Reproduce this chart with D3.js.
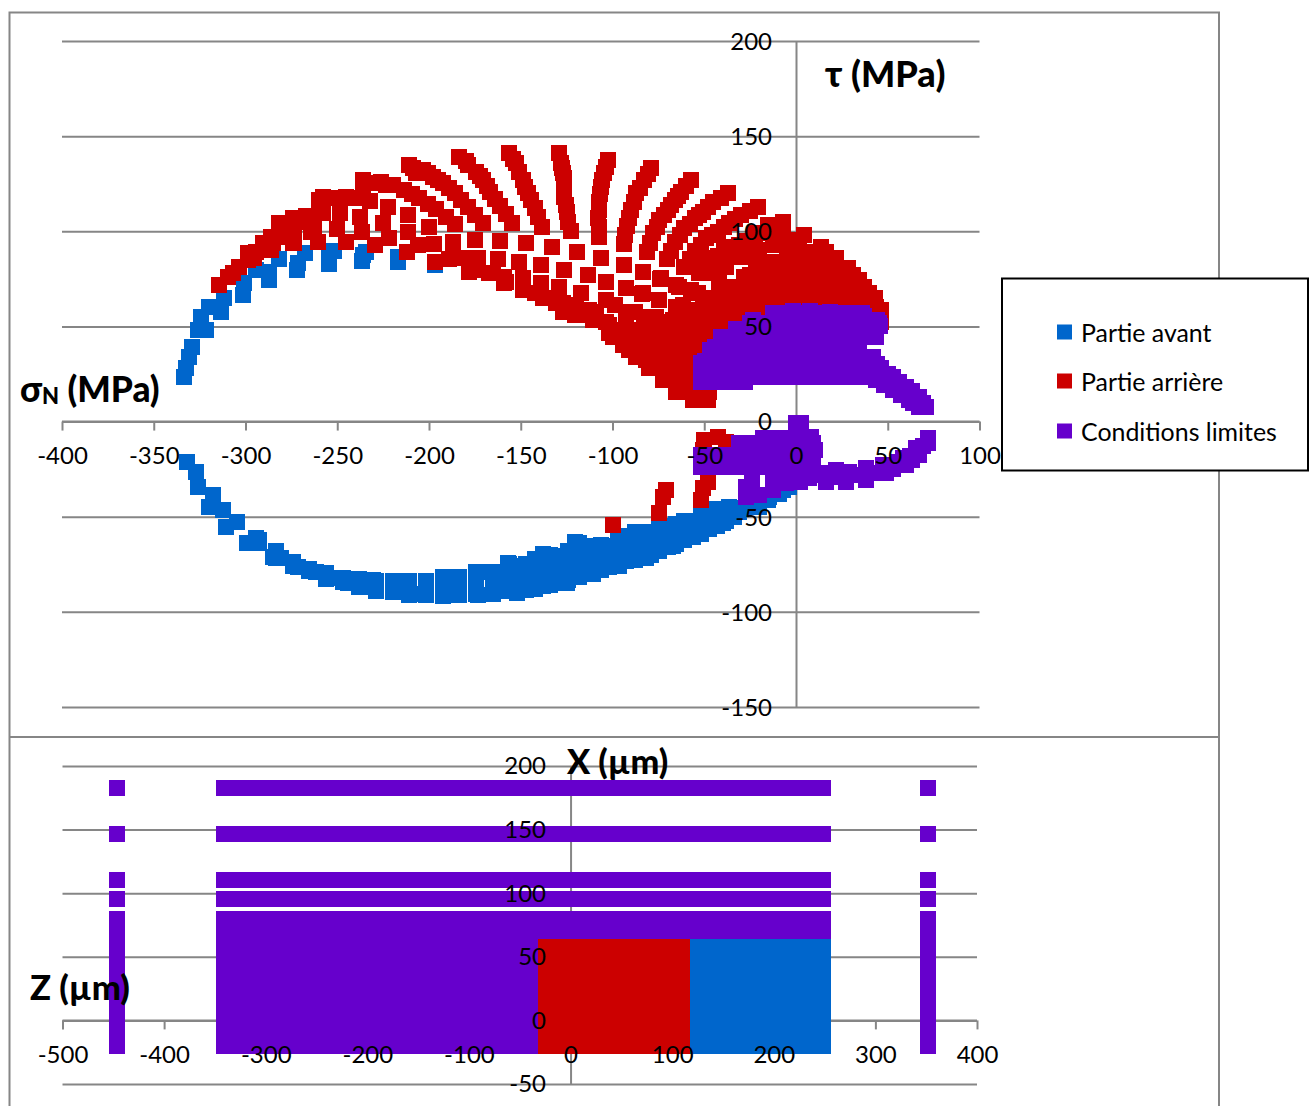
<!DOCTYPE html>
<html><head><meta charset="utf-8">
<script src="https://cdn.jsdelivr.net/npm/d3@7/dist/d3.min.js"></script>
<style>html,body{margin:0;background:#fff}svg{display:block}text{font-family:Lato,Carlito,sans-serif;fill:#000}</style>
</head><body><svg id="c" width="1311" height="1106"></svg>
<script>
// ---- stress chart ticks
const sigmaTicks=[-400,-350,-300,-250,-200,-150,-100,-50,0,50,100];
const tauTicks=[-150,-100,-50,0,50,100,150,200];
// ---- position chart ticks
const xPosTicks=[-500,-400,-300,-200,-100,0,100,200,300,400];
const zPosTicks=[-50,0,50,100,150,200];
// ---- Partie avant, stress chart
const blueUpper=[[-333.5,23.6],[-332.4,28],[-330.9,34.1],[-329.3,39.3],[-326,48.1],[-321.5,48.1],[-324.2,55.1],[-319.7,60.4],[-313.3,57.7],[-311.5,64.7],[-301.1,66.5],[-300.6,72.6],[-294.2,79.6],[-287,74.4],[-287,78.8],[-281.9,85.2],[-271.9,79.6],[-271.2,83.1],[-267.5,88.4],[-254.6,82.8],[-254.6,85.8],[-251.5,89.8],[-236.5,84.4],[-236.1,87.5],[-234.3,89.3],[-217,84],[-216.8,86.6],[-197,82.3],[-178,78.8]];
const blueLower=[[-332,-21.1],[-326.9,-26.3],[-326,-34.2],[-317.8,-38.6],[-319.7,-44.7],[-312.4,-46.5],[-310.6,-55.2],[-304.8,-52.6],[-299.3,-64],[-294.2,-61.3],[-285.1,-71],[-280.6,-71.8],[-271.5,-76.2],[-261.5,-78.9],[-254.3,-82.4],[-244.3,-85],[-233.4,-86.7],[-219.7,-88.5],[-230.6,-83.2],[-216.1,-83.6],[-201.6,-83.6],[-208.8,-90.6],[-192.5,-81.8],[-192.5,-91.5],[-183.4,-81.8],[-183.4,-91.1],[-173.4,-78.9],[-173.4,-91.1],[-165.2,-78.9],[-165.2,-90.2],[-157.1,-74.5],[-157.1,-88.5],[-147.1,-74.8],[-147.1,-88.5],[-138,-69.8],[-138,-83.2],[-138,-86.4],[-128.9,-71],[-128.9,-85],[-120.7,-63.4],[-120.7,-74.5],[-120.7,-81.5],[-120.2,-63.4],[-112.6,-65.2],[-101.7,-65.2],[-92.6,-60],[-81.7,-59],[-70.8,-56.1],[-59.9,-53.8],[-49,-46.8],[-36.3,-45.1],[-124.9,-84.6],[-110.7,-80.3],[-96.2,-75.9],[-81.7,-71.5],[-67.1,-65.4],[-52.6,-58.4],[-39.9,-53.1],[-30.8,-47.3],[-21.7,-43],[-14.5,-39.4],[-7.2,-36],[-3.6,-34.5],[-123.5,-72.7],[-110.7,-71],[-98,-67.5],[-85.3,-65.7],[-74.4,-62.2],[-61.7,-60.5],[-47.2,-54.3]];
const blueColumns=[[-292.4,-62,-64],[-283.3,-68,-71.7],[-274.2,-74,-75.7],[-265.2,-77.6,-78.7],[-256,-79.7,-82.7],[-247,-82,-84.5],[-238,-82.9,-87.1],[-228.8,-83.7,-88.9],[-219.7,-83.7,-89.8],[-210.7,-83.7,-91],[-201.6,-83.7,-91],[-192.5,-82,-87,-91.5],[-183.4,-82,-87,-91.2],[-174.3,-79,-85,-90.6],[-165.2,-79,-85,-90.6],[-156.2,-74.6,-81,-88.9],[-147.1,-75,-81,-88.5],[-138,-69.7,-76,-81,-86.2],[-128.9,-70.6,-76,-80,-84.8],[-119.8,-63.6,-70,-76,-81],[-118,-63.6,-70,-76,-81.9],[-110.7,-65.3,-71,-75,-80],[-101.7,-65.7,-71,-76.6],[-92.6,-60.1,-66,-73.1],[-83.5,-60.1,-66,-71.4],[-74.4,-56.6,-62,-67.8],[-65.3,-54,-59,-64.3],[-56.2,-52.2,-56,-60.8],[-47.2,-47,-52,-56.5],[-38.1,-46.1,-52.1],[-29,-45.2,-46],[-19.9,-45,-40.7],[-152,-76,-84,-90],[-142,-72,-80,-88],[-134,-70,-78,-86],[-124,-68,-76,-83],[-106,-65,-72,-78],[-97,-60,-68,-75],[-88,-58,-66,-73],[-79,-58,-64,-70],[-70,-55,-61,-66],[-61,-52,-58,-62],[-52,-49,-54,-59],[-43,-46,-50,-55],[-34,-46,-50],[-25,-45,-44],[-15,-41,-39],[-9,-38,-36]];
// ---- Partie arrière, stress chart: one array per loading path
const red1=[[-314.2,71.7],[-309.7,76.1],[-303.3,81.4],[-295.1,85.8],[-286,90.1],[-274.2,93.6],[-260.3,94.5],[-245.3,94.3],[-229.2,92.8],[-211.9,89.3],[-197,83.7],[-188.9,85.2],[-182.5,85.8]];
const red2=[[-298.8,88.4],[-290.6,93.6],[-282.4,97.2],[-273.7,99.8],[-262.8,101.5],[-250.3,101.2],[-236.6,99.6],[-221.6,96.3],[-206.1,92.8],[-187,85.8],[-173.4,79.6]];
const red3=[[-281.5,104.2],[-274.2,106.8],[-267,108],[-257.9,109.4],[-248.6,109.4],[-237.5,107.7],[-225.2,104.2],[-211.7,99.6],[-197.4,93.3],[-178,85.8],[-165.2,77.9],[-148.9,69.1]];
const red4=[[-259.7,116.4],[-252.4,117.6],[-245.2,118.2],[-239.7,117.3],[-231.9,116.1],[-222.3,112.9],[-211.6,108.5],[-199.8,102.2],[-187,94.5],[-173.1,86.1],[-158.9,76.1],[-142.5,67.4]];
const red5=[[-236.1,126.9],[-226.1,126],[-219.7,124.3],[-213.4,121.7],[-205.2,117.3],[-196.1,111.5],[-186.1,103.8],[-174.9,95.2],[-162.5,85.2],[-148.9,75.3],[-136.2,64.7]];
const red6=[[-210.7,134.8],[-203.4,132.2],[-198,128.7],[-192.5,125.2],[-186.1,119.9],[-178.9,112.9],[-170.7,104.5],[-161.3,94.9],[-150.7,84],[-138.9,73],[-127.1,62.1]];
const red7=[[-183.4,139.2],[-178.9,134.8],[-174.3,131.3],[-170.7,126.9],[-166.5,120.8],[-161.1,113.3],[-154.7,104.2],[-147.1,93.6],[-138.7,82.3],[-128.9,70.5],[-119.8,59.5]];
const red8=[[-156.2,140.9],[-152.5,135.7],[-150.7,131.3],[-148.9,126.9],[-146.2,120.3],[-142.5,112.2],[-138.5,102.4],[-132.9,91.7],[-126.2,79.6],[-117.1,67.4],[-108.9,57.7]];
const red9=[[-128.9,140.9],[-128,135.7],[-127.1,130.4],[-126.7,125.2],[-126.2,118.2],[-124.9,109.9],[-122.6,100.3],[-119.3,88.9],[-113.5,77],[-103.5,63.9],[-92.6,53.4]];
const red10=[[-102.6,137.4],[-104.4,130.4],[-106.2,123.4],[-107.1,115.5],[-107.8,106.8],[-107.5,97.2],[-106,85.8],[-103.3,73.5],[-98.9,61.2],[-89.8,48.1],[-79.9,37.6]];
const red11=[[-79,133.1],[-82.6,126.9],[-87.1,119.9],[-89.8,111.2],[-92,102.9],[-93.7,93.3],[-94,82.3],[-92.9,70.3],[-88,57.7],[-77.1,46.4],[-67.1,35.8],[-61.7,21.8]];
const red12=[[-57.2,126.9],[-62.6,120.8],[-66.2,116.4],[-69.9,111.2],[-74.4,105.9],[-78,98.9],[-81.3,89.3],[-83.5,78.4],[-83.9,67],[-76.2,55.1],[-66.2,43.7],[-58,32.3]];
const red13=[[-37.2,119.9],[-45.3,115.5],[-50.8,110.3],[-55.3,106.8],[-60.8,101.5],[-65.7,94.2],[-70.4,85.2],[-73.9,74.9],[-74.4,63.9],[-67.1,53.4],[-58,42.8],[-52.6,30.6]];
const red14=[[-20.8,112.6],[-29.9,108.5],[-36.3,104.2],[-42.6,99.8],[-49,96.3],[-55.3,89.8],[-61.1,81.4],[-65.3,71.8],[-61.7,61.2],[-54.4,50.7],[-49,41.1]];
const red15=[[-7.2,105],[-15.4,100.7],[-22.6,97.2],[-30.8,92.8],[-39,88.7],[-46.2,85.2],[-52.6,79.6],[-57.2,69.1],[-50.8,60.4],[-43.5,49.9]];
const red16=[[4.6,98],[-2.7,95.4],[-11.7,92.8],[-19.9,90.1],[-28.1,86.6],[-38,83.1],[-46.2,77.9],[-39.9,69.1],[-34.4,58.6]];
const redBands=[[-90.8,57.7],[-82.6,55.1],[-74.4,52.5],[-65.3,48.1],[-57.2,44.6],[-50.8,41.1],[-83.5,67.4],[-74.4,63.9],[-65.3,60.4],[-56.2,56],[-47.2,51.6],[-39.9,48.1],[-73.5,75.3],[-63.5,70.9],[-53.5,67.4],[-43.5,62.1],[-34.4,57.7],[-60.8,81.4],[-52.6,77.9],[-41.7,72.6],[-32.6,67.4],[-24.5,62.1],[-47.2,85.8],[-38.1,81.4],[-28.1,76.1],[-18.1,70.9],[-10.8,64.7],[-39,91.9],[-29.9,86.6],[-21.7,81.4],[-12.6,75.3],[-5.4,67.4],[-30.8,92.8],[-21.7,89.3],[-13.6,84],[-5.4,77],[1.9,67.4],[-22.6,98.9],[-12.6,95.4],[-3.6,88.4],[3.7,79.6],[11,69.1],[-15.4,103.3],[-7.2,100.7],[1.9,93.6],[11,84.9],[18.2,76.1],[23.7,65.6],[4.6,98],[13.7,91.9],[18.2,84],[27.3,76.1],[32.8,69.1],[38.2,61.2],[45.5,54.2],[21.9,85.8],[28.2,80.5],[34.6,74.4],[40,67.4],[43.7,60.4]];
const redFoot=[[-103.5,52.5],[-95.3,48.1],[-85.3,43.7],[-76.2,39.3],[-67.1,34.1],[-59,28.8],[-52.6,23.6],[-117.1,56],[-110.7,53.4],[-99.8,44.6],[-90.8,37.6],[-81.7,32.3],[-72.6,25.3],[-63.5,17.5],[-56.2,12.2],[-49,11.3],[-47.2,15.7],[-50.8,20.1],[-122.5,61.2],[-112.6,58.6],[-101.7,50.7],[-178,78.8],[-167.1,78.2],[-158,73.5],[-148.9,70.9],[-141.6,67.4],[-130.7,62.1],[-120.7,56],[-158.9,72.6],[-138,64.7],[-127.1,57.7]];
const redOuter=[[-298.8,84.9],[-307,77.9],[-294.2,89.3],[-285.1,93.6],[-286,97.2],[-281.5,99.8],[-277.9,102.4],[-273.7,93.6],[-273.7,97.2],[-273.7,102.4],[-269.7,105],[-262.4,105.9],[-264.3,99.8],[-260.1,114.7],[-260.1,111.2],[-257.9,118.2],[-236.1,124.3],[-230.6,125.2],[-223.4,124.3],[-208.8,133],[-207,130.4],[-180,137],[-172,129],[-168.5,124],[-164,117],[-158,109],[-154,138],[-147.5,123.5],[-144.5,116.5],[-140.5,107.5],[-127.5,133],[-126.5,128],[-126.5,122],[-125.5,114],[-124,105],[-103.5,134],[-105.5,127],[-106.6,119.5],[-107.5,111],[-107.5,102],[-80.5,130],[-85,123],[-88.5,115.5],[-91,107],[-93,98],[-60,124],[-64.5,118.5],[-68,114],[-72,108.5],[-76,102.5],[-79.5,94],[-41,117.7],[-48,113],[-53,108.5],[-58,104],[-63,98],[-68,89.5],[-25,110.5],[-33,106.5],[-39.5,102],[-46,98],[-52,93],[-58,85.5],[-11,103],[-19,99],[-26.5,95],[-35,90.7],[-42.5,87],[-49.5,82.5],[-200.8,130.5],[-195.3,127],[-189.3,122.5],[-182.5,116.5],[-174.8,108.7],[-209.3,119.5],[-200.7,114.4],[-191,107.7]];
const redRowX=[-105,-97,-89,-81,-73,-65,-57,-49,-41,-33,-25,-17,-9,-1,7,15,23,31,39,47];
const redRows=[[89.3,-5,16.4],[95.4,0,1.9],[83.1,-12,21.9],[77,-25,31],[70.9,-35,37.3],[64.7,-45,42.8],[58.6,-60,46.4],[52.5,-80,46.4],[46.4,-101.7,-38.1],[40.2,-94.4,-47.2],[34.1,-87.1,-54.4],[28,-79.9,-52.6],[21.8,-72.6,-50.8],[15.7,-65.3,-49],[11.3,-56.2,-48.1]];
const redBelowAxis=[[-99.8,-54.3],[-74.4,-48.2],[-72.6,-39.4],[-70.8,-36],[-51.7,-41.2],[-50.8,-35],[-48.1,-31.6],[-49.9,-9.7],[-42.6,-7.9],[-38.1,-10.5],[-50.8,-14.9]];
// ---- Conditions limites, stress chart
const purpleRowX=[-51.7,-43.5,-35.5,-27.5,-19.5,-11.5,-3.5,4.5,12.5,20.5,28.5,36.5];
const purpleRows=[[57,-12,36],[51.6,-25,45],[44.6,-41,43],[37.6,-47,34],[30.6,-52,40],[23.6,-52,43],[20.8,-52,-28]];
const purpleEdge=[[-44,39],[-32.6,48.6],[-23.2,53.4],[-12.6,56.9],[-1.7,57.9],[7.7,58.3],[18.6,57.4],[28.6,56.2],[36.8,55.6],[44,53.4],[45.8,50.4],[43.7,44.6],[34.6,37.6],[-49.5,32],[40,30.6],[43.7,23.6],[-51.7,24]];
const purpleTail=[[41.9,34.1],[46.4,28],[52.7,23.6],[60,18.3],[67.3,13.1],[70.9,7.8],[67.3,7.8],[61.8,11.3],[52.7,16.6],[43.7,21.8],[44,30],[50,25],[56,21],[63,16],[69,10],[64,9.5],[57,14],[48,19]];
const purpleLowerRows=[[-17.6,-52,9],[-23.7,-52,9],[-11.4,-31,9],[-8.8,-18,8]];
const purpleLowerEdge=[[9.2,-17.6],[9.2,-23.7],[10.1,-14.9],[8.2,-7.9],[0.1,-0.9],[2.8,-0.9],[-27.2,-39.4],[-19.9,-38.6],[-27.2,-34.2],[-12.6,-36],[-5.4,-32.4],[-12.6,-30.7],[-1.7,-30.7],[7.3,-29.8],[14.6,-28],[21.9,-25.4],[29.1,-26.3],[38.2,-24.6],[47.3,-22.8],[58.2,-19.3],[65.5,-14.1],[71.8,-8.8],[71.8,-11.4],[16.4,-31.6],[27.3,-31.6],[38.2,-30.7],[49.1,-27.2],[60,-22.8],[67.3,-17.6],[18,-27],[25,-29],[33,-28],[43,-27],[53,-25],[56,-21],[62,-18],[69,-13],[63,-20],[4,-27],[-24,-30],[-6,-28],[2,-32]];
// ---- position chart
const meshX=[-341,-329,-317,-305,-293,-281,-269,-257,-245,-233,-221,-209,-197,-185,-173,-161,-149,-137,-125,-113,-101,-89,-77,-65,-53,-40,-28,-16,-4,8,20,32,44,56,68,80,92,101,110,125,137,149,161,173,185,197,209,221,235,248];
const meshZ=[79.9,70.3,57.6,46,34,22,10,-2,-10,-19.9];
const stripZ=[182.8,146.6,110.6,95.6];
const edgeX=[-446,352];
const redRight=110, purpleRight=-40, solidTopZ=70;
const legendNames=["Partie avant","Partie arrière","Conditions limites"];
const colors=["#0066cc","#cc0000","#6600cc"];
const gridColor="#868686";

const svg=d3.select("#c");
const sx=d3.scaleLinear().domain([-400,100]).range([62,979.5]);
const sy=d3.scaleLinear().domain([-150,200]).range([707,41]);
const px=d3.scaleLinear().domain([-500,400]).range([62.5,977]);
const py=d3.scaleLinear().domain([-50,200]).range([1084,766]);

// frames
const frame=svg.append("g").attr("stroke",gridColor).attr("stroke-width",2);
frame.append("rect").attr("x",9.5).attr("y",12.5).attr("width",1209.5).attr("height",1110).attr("fill","#fff");
frame.append("line").attr("x1",9.5).attr("x2",1219).attr("y1",737).attr("y2",737);

function axes(x,y,xTicks,yTicks){
  const g=svg.append("g");
  const gy=g.append("g").attr("transform",`translate(${x.range()[1]},0)`)
    .call(d3.axisLeft(y).tickValues(yTicks).tickSize(x.range()[1]-x.range()[0]).tickFormat(""));
  gy.select(".domain").remove();
  g.append("g").attr("transform",`translate(${x(0)},0)`)
    .call(d3.axisLeft(y).tickValues(yTicks).tickSize(0).tickFormat(""));
  const gx=g.append("g").attr("transform",`translate(0,${y(0)})`)
    .call(d3.axisBottom(x).tickValues(xTicks).tickSize(9).tickFormat(""));
  gx.select(".domain").attr("d",`M${x.range()[0]},0H${x.range()[1]}`);
  g.selectAll("line,path").attr("stroke",gridColor).attr("stroke-width",2);
}
axes(sx,sy,sigmaTicks,tauTicks);
axes(px,py,xPosTicks,zPosTicks);

function marks(data,x,y,size,color){
  svg.append("g").attr("fill",color).attr("shape-rendering","crispEdges").selectAll("rect").data(data).join("rect")
    .attr("x",d=>x(d[0])-size/2).attr("y",d=>y(d[1])-size/2).attr("width",size).attr("height",size);
}
const fromRows=(rows,rowX)=>rows.flatMap(([y,a,b])=>rowX.filter(v=>v>=a&&v<=b).concat([a,b]).map(v=>[v,y]));
const fromColumns=cols=>cols.flatMap(([x,...ys])=>ys.map(y=>[x,y]));
const cross=(xs,zs)=>xs.flatMap(a=>zs.map(b=>[a,b]));
// position chart
marks(cross(meshX,meshZ),px,py,16,colors[0]);
marks(cross(meshX.filter(v=>v<=redRight),meshZ),px,py,16,colors[1]);
marks(cross(meshX,stripZ).concat(cross(edgeX,stripZ)).concat(cross(edgeX,meshZ))
  .concat(cross(meshX.filter(v=>v<=purpleRight),meshZ))
  .concat(cross(meshX,meshZ.filter(v=>v>=solidTopZ))),px,py,16,colors[2]);
// stress chart
marks(blueUpper.concat(blueLower,fromColumns(blueColumns)),sx,sy,16,colors[0]);
marks([red1,red2,red3,red4,red5,red6,red7,red8,red9,red10,red11,red12,red13,red14,red15,red16,redBands,redFoot,redOuter,fromRows(redRows,redRowX),redBelowAxis].flat(),sx,sy,16,colors[1]);
marks(fromRows(purpleRows,purpleRowX).concat(purpleEdge,purpleTail,fromRows(purpleLowerRows,purpleRowX),purpleLowerEdge),sx,sy,16,colors[2]);

// tick labels sit on top of the marks
function labels(x,y,xTicks,yTicks,xLabelDy,yLabelX,dyAdj){
  const g=svg.append("g");
  const gx=g.append("g").attr("transform",`translate(0,${y(0)})`)
    .call(d3.axisBottom(x).tickValues(xTicks).tickSize(0).tickFormat(d=>String(d)));
  gx.select(".domain").remove();
  gx.selectAll("text").attr("y",xLabelDy).attr("dy",".35em").attr("font-size",24).attr("font-family","Lato");
  const gy=g.append("g").attr("transform",`translate(${yLabelX},0)`)
    .call(d3.axisLeft(y).tickValues(yTicks).tickSize(0).tickPadding(0).tickFormat(d=>String(d)));
  gy.select(".domain").remove();
  gy.selectAll("text").attr("font-size",24).attr("font-family","Lato").attr("dy",".35em").attr("y",dyAdj);
}
labels(sx,sy,sigmaTicks,tauTicks,34,772,0);
labels(px,py,xPosTicks,zPosTicks,34.5,546,-0.5);

const title=(t,x,y,s=36)=>svg.append("text").attr("x",x).attr("y",y).attr("font-size",s).attr("font-weight",900).attr("dominant-baseline","middle").text(t);
title("τ (MPa)",825,78);
const sg=title("σ",20,393,35.3);
sg.append("tspan").attr("font-size",22).attr("dy",5).text("N");
sg.append("tspan").attr("dy",-5).text(" (MPa)");
title("X (µm)",567,765,34.2);
title("Z (µm)",30,991,34.6);

// legend
svg.append("rect").attr("x",1002).attr("y",278.5).attr("width",306).attr("height",192).attr("fill","#fff").attr("stroke","#000").attr("stroke-width",2);
const ly=[332,381,431];
legendNames.forEach((n,i)=>{
  svg.append("rect").attr("x",1057).attr("y",ly[i]-7.5).attr("width",15).attr("height",15).attr("fill",colors[i]);
  svg.append("text").attr("x",1081).attr("y",ly[i]+3.5).attr("font-size",24.9).attr("dominant-baseline","middle").text(n);
});
</script></body></html>
